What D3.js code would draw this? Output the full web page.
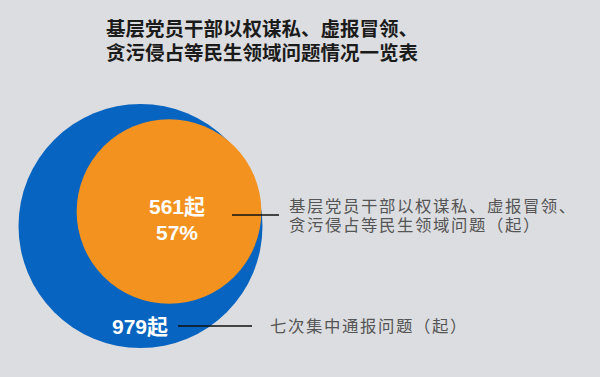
<!DOCTYPE html>
<html><head><meta charset="utf-8">
<script src="https://cdn.jsdelivr.net/npm/d3@7"></script>
<style>
html,body{margin:0;padding:0;background:#dcdde0;}
svg{display:block;}
</style></head>
<body>
<script>
const titleLines = ["基层党员干部以权谋私、虚报冒领、", "贪污侵占等民生领域问题情况一览表"];
const categories = ["七次集中通报问题（起）", "基层党员干部以权谋私、虚报冒领、贪污侵占等民生领域问题（起）"];
const labelLines = [["七次集中通报问题（起）"], ["基层党员干部以权谋私、虚报冒领、", "贪污侵占等民生领域问题（起）"]];
const values = [979, 561];
const percentLabels = [null, "57%"];
const colors = ["#0764c0", "#f3921e"];

const W = 600, H = 377;
const svg = d3.select("body").append("svg").attr("width", W).attr("height", H);
svg.append("rect").attr("width", W).attr("height", H).attr("fill", "#dcdde0");

const cjk = "'Liberation Sans', 'Noto Sans CJK SC', sans-serif";
const latin = "'Liberation Sans', Arial, 'Noto Sans CJK SC', sans-serif";

// Title (one text, two lines)
const title = svg.append("text")
  .attr("text-anchor", "middle")
  .attr("font-family", cjk).attr("font-size", 19.5).attr("font-weight", 700)
  .attr("fill", "#1b1b1b");
title.selectAll("tspan").data(titleLines).join("tspan")
  .attr("x", 262).attr("y", (d, i) => 36 + i * 24).text(d => d);

const r = d3.scaleSqrt().domain([0, d3.max(values)]).range([0, 122]);
const centers = [{cx: 140.5, cy: 226}, {cx: 169, cy: 211.5}];

svg.append("g").selectAll("circle").data(values).join("circle")
  .attr("cx", (d, i) => centers[i].cx).attr("cy", (d, i) => centers[i].cy)
  .attr("r", d => r(d)).attr("fill", (d, i) => colors[i]);

// value labels
const vlab = svg.append("g").attr("font-family", latin).attr("font-weight", 700).attr("fill", "#fff").attr("text-anchor", "middle");
vlab.append("text").attr("x", 140).attr("y", 334).attr("font-size", 21).text(values[0] + "起");
const t2 = vlab.append("text").attr("font-size", 21);
t2.append("tspan").attr("x", 177).attr("y", 214).text(values[1] + "起");
t2.append("tspan").attr("x", 177).attr("y", 239.5).text(percentLabels[1]);

// leader lines
const leaders = [{x1: 178, x2: 252, y: 326}, {x1: 232, x2: 279, y: 215}];
svg.append("g").selectAll("line").data(leaders).join("line")
  .attr("x1", d => d.x1).attr("x2", d => d.x2).attr("y1", d => d.y).attr("y2", d => d.y)
  .attr("stroke", "#111").attr("stroke-width", 1.3);

// category labels
const labPos = [{x: 270, y: 332}, {x: 289, y: 211.5}];
labelLines.forEach((lines, i) => {
  const t = svg.append("text")
    .attr("font-family", cjk).attr("font-size", 16.4).attr("letter-spacing", 1.6)
    .attr("fill", "#555");
  t.selectAll("tspan").data(lines).join("tspan")
    .attr("x", labPos[i].x).attr("y", (d, j) => labPos[i].y + j * 19).text(d => d);
});
</script>
</body></html>
